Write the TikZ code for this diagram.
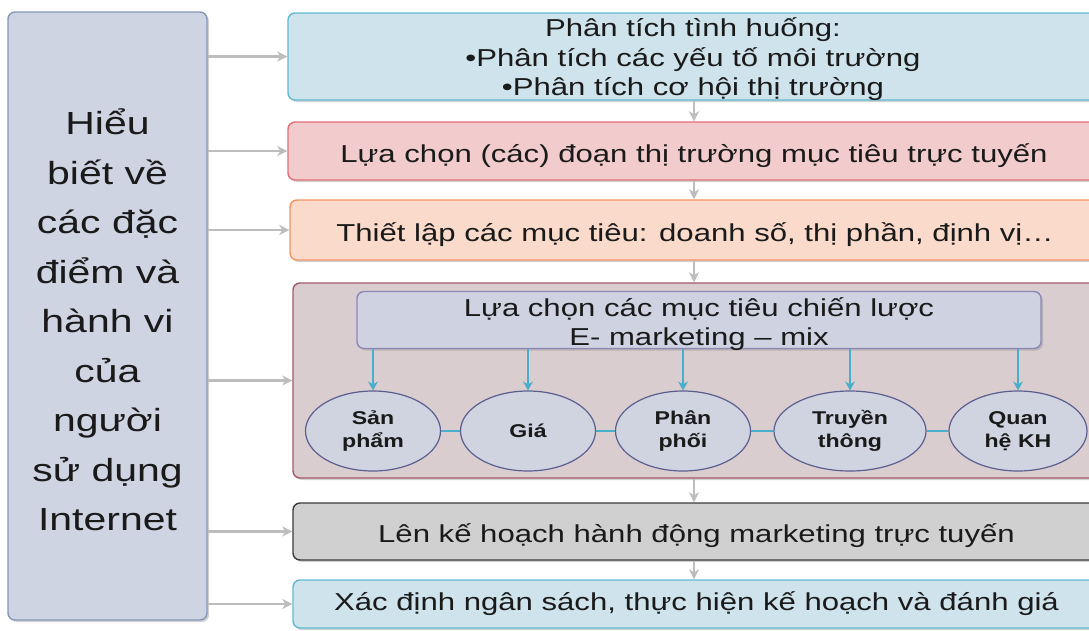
\documentclass[tikz,border=0pt]{standalone}
\usepackage{fontspec}
\setmainfont{Liberation Sans}
\newfontfamily\widefont[FakeStretch=1.27]{Liberation Sans}
\newfontfamily\leftfont[FakeStretch=1.28]{Liberation Sans}
\newfontfamily\ellfont[FakeStretch=1.25]{Liberation Sans}
\usetikzlibrary{shapes.geometric,arrows.meta,shadows}
\definecolor{leftfill}{HTML}{CED4E2}
\definecolor{leftline}{HTML}{8497B8}
\definecolor{bluefill}{HTML}{CEE3EB}
\definecolor{blueline}{HTML}{5FBAD2}
\definecolor{redfill}{HTML}{F2CBCC}
\definecolor{redline}{HTML}{E26E78}
\definecolor{orfill}{HTML}{FADACA}
\definecolor{orline}{HTML}{F29462}
\definecolor{mixfill}{HTML}{DACDCF}
\definecolor{mixline}{HTML}{A2596A}
\definecolor{innerfill}{HTML}{CFD2E0}
\definecolor{innerline}{HTML}{8C88B8}
\definecolor{ellfill}{HTML}{D0D3E0}
\definecolor{ellline}{HTML}{5A5F90}
\definecolor{grayfill}{HTML}{D0D0D0}
\definecolor{grayline}{HTML}{3A3A3A}
\definecolor{arrgray}{HTML}{BDBDBD}
\definecolor{cyanline}{HTML}{48AECB}
\definecolor{txt}{HTML}{1A1A1A}
\tikzset{
  stagebox/.style={draw, line width=1.4pt, rounded corners=7pt, text=txt,
    align=center, inner sep=0pt, font=\widefont\fontsize{24.5}{28.5}\selectfont,
    drop shadow={shadow xshift=2pt, shadow yshift=-2pt, opacity=0.35}},
  oneline/.style={text height=22pt, text depth=0pt},
  boxtext/.style={text=txt, align=center, inner sep=0pt,
    font=\widefont\fontsize{24.5}{29.5}\selectfont},
  ellbox/.style={ellipse, draw=ellline, fill=ellfill, line width=1.2pt,
    inner sep=0pt, minimum width=135pt, minimum height=80pt, align=center,
    text=txt, font=\ellfont\bfseries\fontsize{18.5}{23}\selectfont},
  grayarrow/.style={draw=arrgray, line width=2.6pt,
    -{Stealth[length=10pt,width=10pt,inset=3pt]}},
  cyanarrow/.style={draw=cyanline, line width=1.2pt,
    -{Stealth[length=9pt,width=10pt,inset=3pt]}},
  cyanlink/.style={draw=cyanline, line width=1.4pt}
}
\begin{document}
\begin{tikzpicture}[x=1pt,y=-1pt]
\clip (0,0) rectangle (1089,630);
\fill[white] (0,0) rectangle (1089,630);
% left box
\node[stagebox, draw=leftline, fill=leftfill, minimum width=199pt, minimum height=608pt] (L) at (107.5,316) {};
\node[text=txt, align=center, inner sep=0pt,
  font=\leftfont\fontsize{32}{49.5}\selectfont] (tL) at (107.5,320)
  {Hiểu\\biết về\\các đặc\\điểm và\\hành vi\\của\\người\\sử dụng\\Internet};
% stage boxes
\node[stagebox, draw=blueline, fill=bluefill, minimum width=812pt, minimum height=87pt] (b1) at (694,56.5) {};
\node[boxtext] (t1) at (693,59.5)
  {Phân tích tình huống:\\•Phân tích các yếu tố môi trường\\•Phân tích cơ hội thị trường};
\node[stagebox, oneline, draw=redline, fill=redfill, minimum width=812pt, minimum height=58pt] (b2) at (694,151)
  {Lựa chọn (các) đoạn thị trường mục tiêu trực tuyến};
\node[stagebox, oneline, draw=orline, fill=orfill, minimum width=810pt, minimum height=60pt] (b3) at (695,230)
  {Thiết lập các mục tiêu: doanh số, thị phần, định vị…};
\node[stagebox, draw=mixline, fill=mixfill, minimum width=807pt, minimum height=195pt] (b4) at (696.5,380.5) {};
\node[stagebox, draw=innerline, fill=innerfill, minimum width=684pt, minimum height=57pt] (in) at (699,320) {};
\node[boxtext] (tin) at (699,324)
  {Lựa chọn các mục tiêu chiến lược\\E- marketing – mix};
\node[stagebox, oneline, draw=grayline, fill=grayfill, minimum width=807pt, minimum height=57pt] (b5) at (696.5,531.5)
  {Lên kế hoạch hành động marketing trực tuyến};
\node[stagebox, oneline, text depth=10pt, draw=blueline, fill=bluefill, minimum width=807pt, minimum height=48pt] (b6) at (696.5,604)
  {Xác định ngân sách, thực hiện kế hoạch và đánh giá};
% ellipses
\node[ellbox] (e1) at (373,431) {Sản\\phẩm};
\node[ellbox] (e2) at (528,431) {Giá};
\node[ellbox] (e3) at (683,431) {Phân\\phối};
\node[ellbox, minimum width=152pt] (e4) at (850,431) {Truyền\\thông};
\node[ellbox, minimum width=138pt] (e5) at (1018,431) {Quan\\hệ KH};
% links between ellipses
\draw[cyanlink] (e1) -- (e2);
\draw[cyanlink] (e2) -- (e3);
\draw[cyanlink] (e3) -- (e4);
\draw[cyanlink] (e4) -- (e5);
% cyan arrows
\foreach \e in {e1,e2,e3,e4,e5}{
  \draw[cyanarrow] (\e.north |- in.south) -- (\e.north);
}
% vertical gray arrows
\draw[grayarrow] (b1.south) -- (b1.south |- b2.north);
\draw[grayarrow] (b1.south |- b2.south) -- (b1.south |- b3.north);
\draw[grayarrow] (b1.south |- b3.south) -- (b1.south |- b4.north);
\draw[grayarrow] (b1.south |- b4.south) -- (b1.south |- b5.north);
\draw[grayarrow] (b1.south |- b5.south) -- (b1.south |- b6.north);
% left arrows
\foreach \b in {b1,b2,b3,b4,b5,b6}{
  \draw[grayarrow] (L.east |- \b.west) -- (\b.west);
}
\end{tikzpicture}
\end{document}
